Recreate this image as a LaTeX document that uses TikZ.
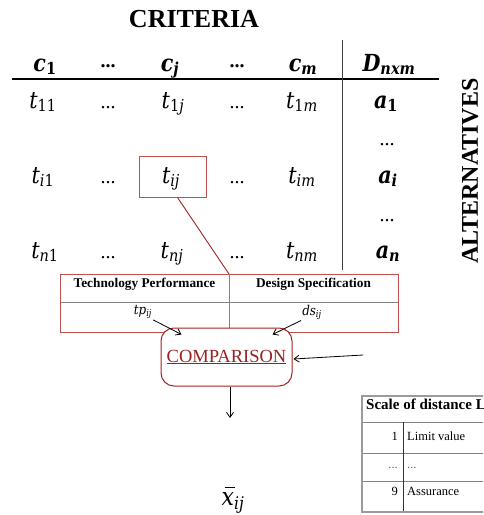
\documentclass[tikz,border=0pt]{standalone}
\usepackage{fontspec}
\setmainfont{Liberation Serif}
\newfontfamily\mf[FakeStretch=0.88]{DejaVu Serif}
\usetikzlibrary{arrows.meta}
\definecolor{redbox}{RGB}{192,80,77}
\definecolor{darkred}{RGB}{165,35,35}
\definecolor{comptext}{RGB}{150,35,35}
\definecolor{gridgray}{RGB}{130,130,130}
\newcommand{\ms}[2]{#1\textsubscript{#2}}
\newcommand{\hdots}{\raisebox{4pt}{\normalfont\bfseries\fontsize{20}{22}\selectfont ...}}
\newcommand{\rdots}{{\normalfont\fontsize{20}{22}\selectfont ...}}
\newcommand{\xbarsym}{\rlap{\hspace{3.5pt}\rule[17pt]{10pt}{1.3pt}}x}
\begin{document}
\begin{tikzpicture}[x=1pt,y=-1pt,
  cell/.style={font=\fontsize{23.5}{26}\selectfont\mf\itshape, anchor=base, inner sep=0pt},
  hcell/.style={font=\fontsize{23.5}{26}\selectfont\mf\itshape\bfseries, anchor=base, inner sep=0pt},
  title/.style={font=\fontsize{26}{28}\selectfont\bfseries, inner sep=0pt},
  thead/.style={font=\fontsize{13.3}{15}\selectfont\bfseries, inner sep=0pt},
  small/.style={font=\fontsize{13.5}{15}\selectfont\mf\itshape, inner sep=1pt},
  arr/.style={-{Straight Barb[length=5pt,width=7pt]}, line width=0.8pt},
  stext/.style={font=\fontsize{12.5}{14}\selectfont, anchor=base west, inner sep=0pt},
  ]
\useasboundingbox (0,0) rectangle (483,515);
\clip (0,0) rectangle (483,515);

% titles
\node[title] (crit) at (194,19) {CRITERIA};
\node[title, rotate=90, font=\fontsize{24}{26}\selectfont\bfseries] (alt) at (470,171) {ALTERNATIVES};

% header row
\node[hcell] (c1) at (45,71) {\ms{c}{\upshape 1}};
\node[hcell] (hd1) at (108,71) {\hdots};
\node[hcell] (cj) at (170,71) {\ms{c}{j}};
\node[hcell] (hd2) at (237,71) {\hdots};
\node[hcell] (cm) at (303,71) {\ms{c}{m}};
\node[hcell] (D) at (389,71) {\ms{D}{nxm}};

% rows
\node[cell] (t11) at (43,108) {\ms{t}{\upshape 11}};
\node[cell] (r1d1) at (108,108) {\rdots};
\node[cell] (t1j) at (173,108) {\ms{t}{\upshape 1\itshape j}};
\node[cell] (r1d2) at (237,108) {\rdots};
\node[cell] (t1m) at (302,108) {\ms{t}{\upshape 1\itshape m}};
\node[hcell] (a1) at (386,108) {\ms{a}{\upshape 1}};

\node[hcell] (vd1) at (387,145) {\rdots};

\node[cell] (ti1) at (43,183) {\ms{t}{i\upshape 1}};
\node[cell] (rid1) at (108,183) {\rdots};
\node[draw=redbox, line width=1pt, minimum width=67pt, minimum height=41pt, inner sep=0pt] (tij) at (172.5,176.5) {};
\node[cell] (tijtext) at (171,183) {\ms{t}{ij}};
\node[cell] (rid2) at (237,183) {\rdots};
\node[cell] (tim) at (302,183) {\ms{t}{im}};
\node[hcell] (ai) at (388,183) {\ms{a}{i}};

\node[hcell] (vd2) at (387,221) {\rdots};

\node[cell] (tn1) at (45,258) {\ms{t}{n\upshape 1}};
\node[cell] (rnd1) at (108,258) {\rdots};
\node[cell] (tnj) at (172,258) {\ms{t}{nj}};
\node[cell] (rnd2) at (237,258) {\rdots};
\node[cell] (tnm) at (302,258) {\ms{t}{nm}};
\node[hcell] (an) at (388,258) {\ms{a}{n}};

% matrix rules
\draw[line width=1.3pt] (12,79) -- (439,79);
\draw[line width=1pt, black!75] (342,40) -- (342,270);

% comparison table
\coordinate (tabtop) at (229,274);
\fill[white] (60,274) rectangle (398,332);
\draw[gridgray, line width=0.7pt] (60,302) -- (398,302);
\draw[gridgray, line width=0.7pt] (229,274) -- (229,332);
\draw[redbox, line width=0.9pt] (60,274) rectangle (398,332);
\node[thead] (tph) at (144.5,284) {Technology Performance};
\node[thead] (dsh) at (313.5,284) {Design Specification};
\node[small] (tp) at (143,312) {\ms{tp}{ij}};
\node[small] (ds) at (312,312) {\ms{ds}{ij}};

\draw[darkred, line width=0.9pt] ([xshift=5pt]tij.south) -- (tabtop);

% comparison box
\node[draw=darkred, line width=1pt, rounded corners=13pt, minimum width=131pt, minimum height=58pt, inner sep=0pt, fill=white,
  font=\fontsize{18.5}{20}\selectfont, text=comptext] (comp) at (226.5,357) {\underline{COMPARISON}};

\draw[arr] (tp.south east) -- ([shift={(21,7)}]comp.north west);
\draw[arr] (ds.south west) -- ([shift={(-20,7)}]comp.north east);
\coordinate (rin) at (363,355);
\draw[arr] (rin) -- ([shift={(1,2)}]comp.east);
\coordinate (dout) at (230,418);
\draw[arr] ([xshift=3.5pt]comp.south) -- (dout);

\node[font=\fontsize{25}{28}\selectfont\mf\itshape, inner sep=0pt, anchor=base] (xbar) at (233,505) {\ms{\xbarsym}{ij}};

% scale table
\draw[gridgray, line width=0.7pt] (362,422) -- (490,422);
\draw[gridgray, line width=0.7pt] (362,453) -- (490,453);
\draw[gridgray, line width=0.7pt] (362,481) -- (490,481);
\draw[black!80, line width=0.8pt] (403,422) -- (403,512);
\draw[gridgray!80, line width=1.4pt] (362,396) rectangle (495,512);
\node[stext, font=\fontsize{15}{17}\selectfont\bfseries] (sh) at (366,409) {Scale of distance L};
\node[font=\fontsize{12.5}{14}\selectfont, anchor=base east, inner sep=0pt] (n1) at (398,440) {1};
\node[stext] (l1) at (407,440) {Limit value};
\node[font=\fontsize{12.5}{14}\selectfont, anchor=base east, inner sep=0pt, text=black!60] (n2) at (398,468) {...};
\node[stext, text=black!60] (l2) at (407,468) {...};
\node[font=\fontsize{12.5}{14}\selectfont, anchor=base east, inner sep=0pt] (n3) at (398,495) {9};
\node[stext] (l3) at (407,495) {Assurance};
\end{tikzpicture}
\end{document}
